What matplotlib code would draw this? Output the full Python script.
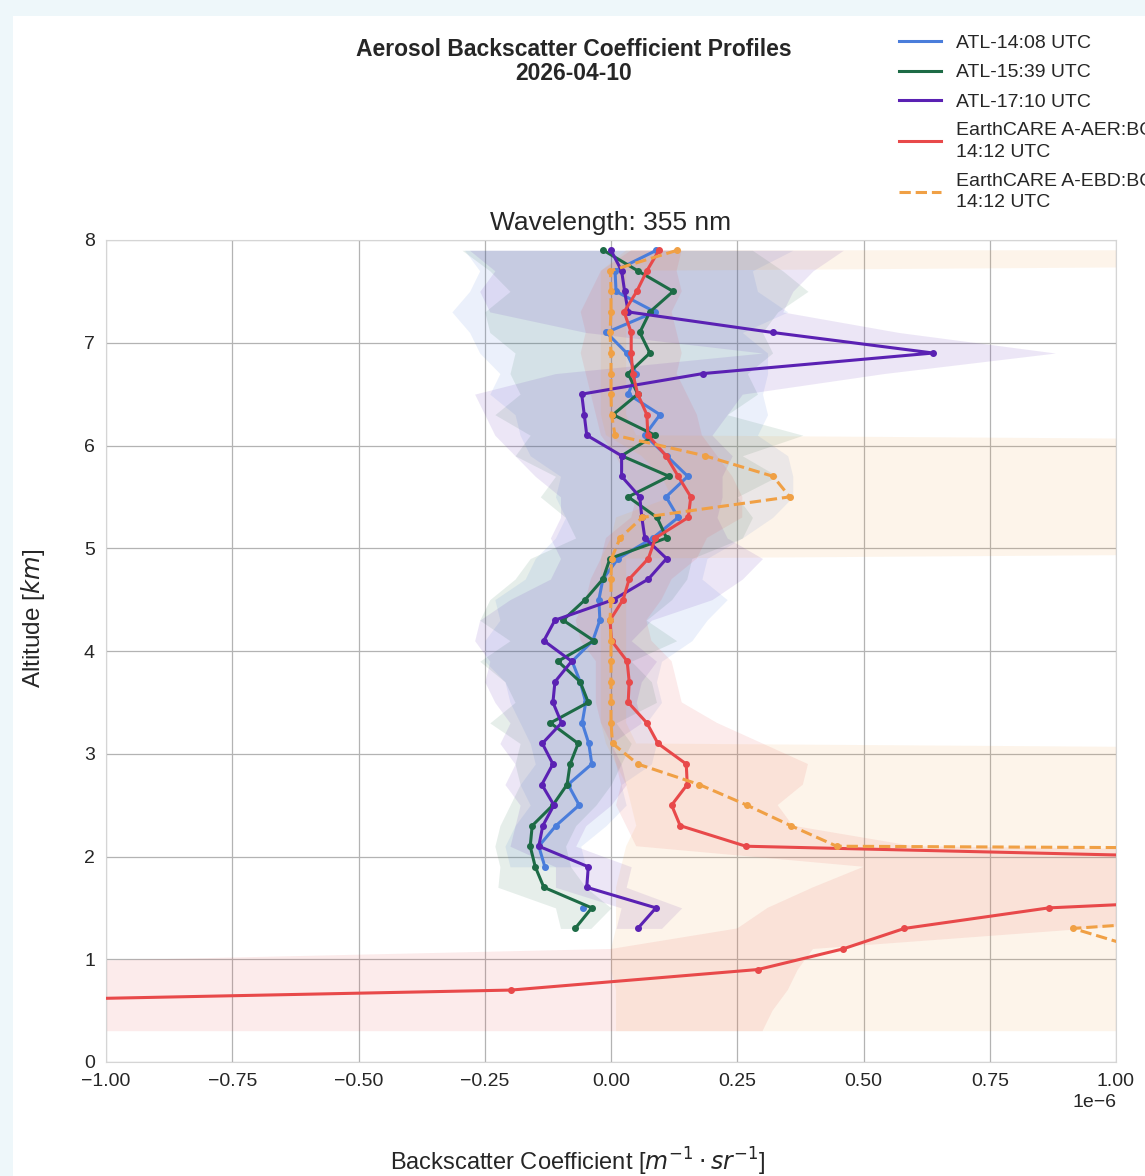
import numpy as np
import matplotlib
matplotlib.use("Agg")
import matplotlib.pyplot as plt
from matplotlib.patches import Rectangle
from matplotlib.lines import Line2D

plt.rcParams['font.family'] = ['Liberation Sans', 'DejaVu Sans']

nan = np.nan

# altitude grid of the profiles [km]
alts = [7.9, 7.7, 7.5, 7.3, 7.1, 6.9, 6.7, 6.5, 6.3, 6.1,
        5.9, 5.7, 5.5, 5.3, 5.1, 4.9, 4.7, 4.5, 4.3, 4.1,
        3.9, 3.7, 3.5, 3.3, 3.1, 2.9, 2.7, 2.5, 2.3, 2.1,
        1.9, 1.7, 1.5, 1.3, 1.1, 0.9, 0.7, 0.5, 0.3]

# backscatter values in units of 1e-7 m^-1 sr^-1
atl1408 = [0.9, 0.08, 0.1, 0.87, -0.09, 0.31, 0.5, 0.34, 0.97, 0.67,
           1.1, 1.52, 1.09, 1.33, 0.83, 0.14, -0.16, -0.24, -0.22, -0.36,
           -0.77, -0.61, -0.5, -0.57, -0.44, -0.38, -0.85, -0.63, -1.09, -1.43,
           -1.31, nan, -0.55, nan, nan, nan, nan, nan, nan]
atl1408_lo = [-2.9, -2.6, -2.8, -3.15, -2.8, -2.6, -2.2, -2.4, -1.9, -1.8,
              -1.6, -1.0, -1.1, -0.9, -1.1, -1.5, -1.7, -2.3, -2.2, -2.5,
              -2.5, -2.1, -2.0, -1.8, -1.6, -1.5, -1.8, -1.6, -1.9, -2.1,
              -2.0, nan, nan, nan, nan, nan, nan, nan, nan]
atl1408_hi = [3.6, 2.8, 2.9, 3.5, 2.6, 3.1, 3.1, 3.0, 3.1, 2.9,
              3.5, 3.6, 3.6, 3.2, 2.6, 1.9, 1.8, 2.3, 1.9, 1.6,
              1.0, 0.9, 1.0, 0.7, 0.9, 0.8, 0.2, 0.3, -0.1, -0.6,
              -0.5, nan, nan, nan, nan, nan, nan, nan, nan]

atl1539 = [-0.15, 0.53, 1.23, 0.77, 0.57, 0.77, 0.34, 0.53, 0.04, 0.87,
           0.21, 1.15, 0.34, 0.91, 1.1, -0.02, -0.16, -0.51, -0.95, -0.34,
           -1.05, -0.61, -0.45, -1.2, -0.65, -0.81, -0.87, -1.15, -1.56, -1.6,
           -1.5, -1.33, -0.38, -0.71, nan, nan, nan, nan, nan]
atl1539_lo = [-2.95, -2.4, -2.0, -2.5, -2.4, -1.9, -2.0, -1.8, -2.3, -1.6,
              -1.9, -1.1, -1.4, -0.9, -0.7, -1.6, -1.9, -2.4, -2.6, -2.0,
              -2.6, -2.1, -1.9, -2.4, -1.8, -1.9, -1.8, -2.0, -2.2, -2.3,
              -2.2, -2.24, -1.1, -1.0, nan, nan, nan, nan, nan]
atl1539_hi = [2.8, 3.4, 3.9, 3.3, 3.0, 3.2, 2.7, 2.9, 2.3, 3.8,
              2.6, 3.3, 2.5, 2.8, 2.6, 1.6, 1.5, 1.2, 0.7, 1.3,
              0.4, 0.8, 0.9, 0.1, 0.4, 0.2, 0.0, -0.3, -0.7, -0.9,
              -0.8, -0.5, 0.0, -0.4, nan, nan, nan, nan, nan]

atl1710 = [0.0, 0.21, 0.27, 0.34, 3.2, 6.38, 1.82, -0.58, -0.53, -0.48,
           0.21, 0.21, 0.57, 0.61, 0.67, 1.10, 0.74, 0.05, -1.11, -1.33,
           -0.78, -1.11, -1.15, -0.98, -1.36, -1.15, -1.37, -1.13, -1.35, -1.43,
           -0.45, -0.48, 0.89, 0.53, nan, nan, nan, nan, nan]
atl1710_lo = [-2.8, -2.3, -2.6, -2.4, -0.5, 3.0, -1.1, -2.7, -2.5, -2.3,
              -1.9, -1.5, -1.0, -1.0, -1.2, -1.0, -1.2, -2.0, -2.6, -2.7,
              -2.4, -2.5, -2.3, -2.0, -2.2, -1.9, -2.1, -1.8, -1.9, -2.0,
              -1.1, -1.1, 0.2, 0.1, nan, nan, nan, nan, nan]
atl1710_hi = [4.6, 4.0, 3.6, 3.4, 5.7, 8.8, 5.4, 2.6, 2.3, 2.0,
              2.4, 2.2, 2.2, 2.1, 2.3, 3.0, 2.6, 2.0, 0.8, 0.4,
              0.9, 0.6, 0.5, 0.6, 0.0, 0.2, 0.3, 0.0, -0.5, -0.7,
              0.4, 0.3, 1.4, 1.0, nan, nan, nan, nan, nan]

aer = [0.95, 0.71, 0.51, 0.26, 0.40, 0.40, 0.43, 0.53, 0.71, 0.73,
       1.09, 1.33, 1.58, 1.53, 0.88, 0.74, 0.36, 0.24, -0.02, 0.01,
       0.32, 0.36, 0.34, 0.71, 0.93, 1.49, 1.51, 1.2, 1.37, 2.67,
       19.9, 17.5, 8.67, 5.81, 4.59, 2.91, -1.98, -22.0, -30.0]
aer_lo = [0.4, -0.2, -0.4, -0.6, -0.5, -0.6, -0.5, -0.4, -0.3, -0.2,
          0.1, 0.3, 0.5, 0.4, -0.1, -0.2, -0.4, -0.5, -0.7, -0.6,
          -0.3, -0.3, -0.3, -0.2, 0.0, 0.1, 0.2, 0.1, 0.3, 0.5,
          5.0, 4.0, 3.1, 2.5, 0.0, -18.0, -30.0, -60.0, -80.0]
aer_hi = [1.4, 1.3, 1.4, 1.2, 1.3, 1.4, 1.3, 1.5, 1.7, 1.8,
          2.1, 2.4, 2.6, 2.6, 1.9, 1.7, 1.2, 1.0, 0.7, 0.8,
          1.2, 1.3, 1.4, 2.1, 3.0, 3.9, 3.8, 3.3, 3.6, 6.0,
          40.0, 35.0, 15.0, 9.5, 4.0, 3.7, 3.5, 3.2, 3.0]

ebd = [1.31, -0.01, 0.0, 0.0, -0.02, 0.0, 0.0, 0.0, 0.01, 0.08,
       1.86, 3.21, 3.54, 0.62, 0.18, 0.01, 0.0, 0.0, -0.02, 0.0,
       0.0, 0.0, 0.0, 0.0, 0.03, 0.53, 1.75, 2.69, 3.56, 4.47,
       90.0, 60.0, 15.0, 9.15, 10.5, 25.0, 35.0, 45.0, 55.0]
ebd_lo = [0.3, -0.2, -0.2, -0.2, -0.2, -0.2, -0.2, -0.2, -0.2, -0.1,
          0.6, 1.0, 1.2, 0.1, 0.0, -0.2, -0.2, -0.2, -0.2, -0.2,
          -0.2, -0.2, -0.2, -0.2, -0.1, 0.1, 0.3, 0.4, 0.5, 0.3,
          0.2, 0.1, 0.1, 0.1, 0.0, 0.0, 0.1, 0.1, 0.1]
ebd_hi = [60, 0.3, 0.3, 0.3, 0.3, 0.3, 0.3, 0.3, 0.3, 0.5,
          60, 60, 60, 60, 60, 0.3, 0.3, 0.3, 0.3, 0.3,
          0.3, 0.3, 0.3, 0.3, 0.5, 60, 60, 60, 60, 60,
          200, 200, 200, 200, 200, 200, 200, 200, 200]

labels = ['ATL-14:08 UTC', 'ATL-15:39 UTC', 'ATL-17:10 UTC',
          'EarthCARE A-AER:BC\n14:12 UTC', 'EarthCARE A-EBD:BC\n14:12 UTC']
colors = ['#4a7ddb', '#1d6b46', '#5a21b3', '#e8494a', '#f0a045']
styles = ['-', '-', '-', '-', '--']
profiles = [(atl1408, atl1408_lo, atl1408_hi),
            (atl1539, atl1539_lo, atl1539_hi),
            (atl1710, atl1710_lo, atl1710_hi),
            (aer, aer_lo, aer_hi),
            (ebd, ebd_lo, ebd_hi)]

W, H = 1145, 1176
fig = plt.figure(figsize=(W / 100, H / 100), dpi=100)
fig.patch.set_facecolor('#eef7fa')
fig.add_artist(Rectangle((13 / W, 0), 1, 1 - 16 / H, transform=fig.transFigure,
                         facecolor='white', edgecolor='none', zorder=-1))

ax = fig.add_axes([106 / W, 1 - 1062 / H, (1116 - 106) / W, (1062 - 240) / H])

scale = 1e-7
y = np.array(alts)
# uncertainty bands first, then the profiles on top
for (vals, lo, hi), col in zip(profiles, colors):
    ax.fill_betweenx(y, np.array(lo) * scale, np.array(hi) * scale,
                     color=col, alpha=0.11, linewidth=0, zorder=1)

for (vals, lo, hi), col, ls in zip(profiles, colors, styles):
    ax.plot(np.array(vals) * scale, y, color=col, linestyle=ls,
            linewidth=2.2, marker='o', markersize=4, zorder=3)

# legend shows plain lines only
handles = [Line2D([], [], color=c, linestyle=ls, linewidth=2.2)
           for c, ls in zip(colors, styles)]

ax.set_xlim(-1e-6, 1e-6)
ax.set_ylim(0, 8)
ax.set_xticks(np.linspace(-1e-6, 1e-6, 9))
ax.set_yticks(range(0, 9))
ax.grid(True, color='#b3b3b3', linewidth=0.9)
ax.set_axisbelow(True)
for sp in ax.spines.values():
    sp.set_color('#d5d5d5')
    sp.set_linewidth(0.8)
ax.tick_params(length=0, pad=8, labelsize=14, colors='#262626')
ax.xaxis.get_offset_text().set_fontsize(14)

ax.set_title('Wavelength: 355 nm', fontsize=19, pad=7, color='#262626')
ax.set_xlabel(r'Backscatter Coefficient [$m^{-1} \cdot sr^{-1}$]', fontsize=17, color='#262626')
ax.set_ylabel(r'Altitude [$km$]', fontsize=17.5, color='#262626')
ax.xaxis.set_label_coords((578 - 106) / 1010, -(1146 - 1062) / 822)
ax.yaxis.set_label_coords(-(106 - 47) / 1010, (1062 - 618) / 822)

fig.text(574 / W, 1 - 38 / H, 'Aerosol Backscatter Coefficient Profiles\n2026-04-10',
         ha='center', va='top', fontsize=16.5, fontweight='bold', color='#262626',
         linespacing=1.05)

leg = fig.legend(handles, labels, loc='upper left', bbox_to_anchor=(881 / W, 1 - 17 / H),
                 frameon=False, fontsize=14, handlelength=2.2, handletextpad=0.75,
                 labelspacing=0.6)
for t in leg.get_texts():
    t.set_color('#262626')
    t.set_linespacing(1.35)

fig.savefig('out.png', dpi=100)
